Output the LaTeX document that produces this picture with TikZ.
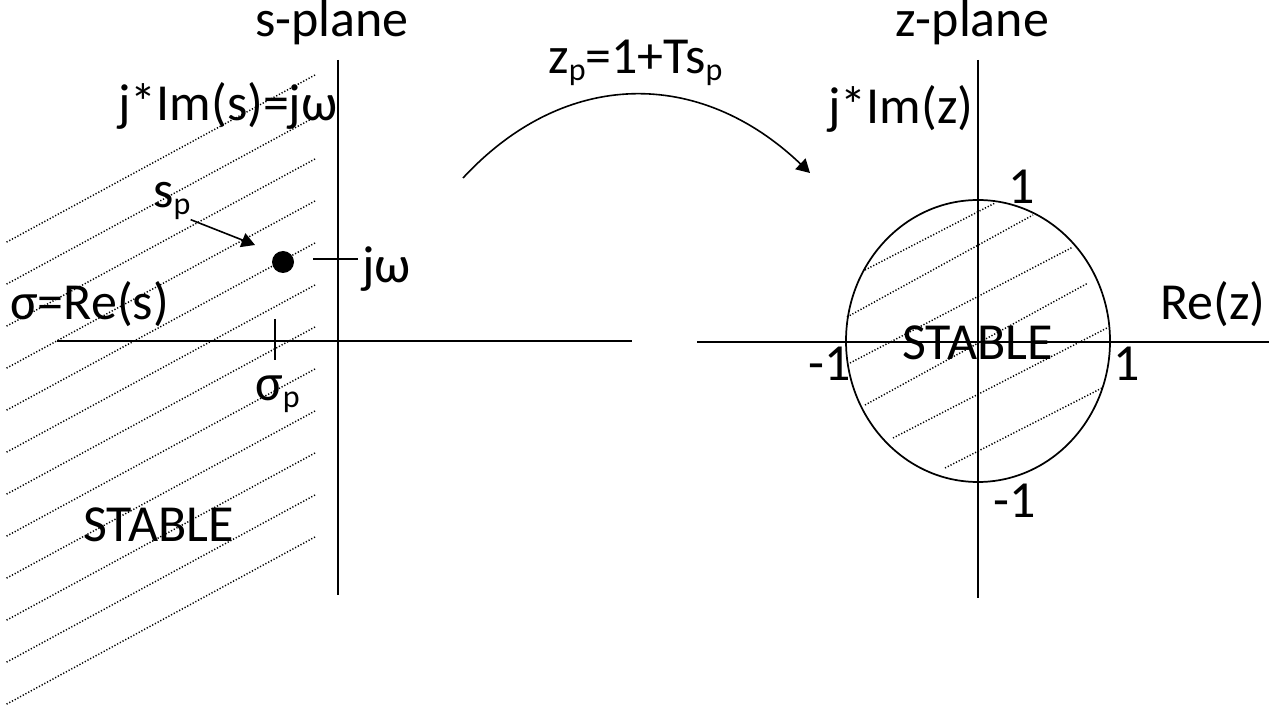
\documentclass[tikz,border=0pt]{standalone}
\usepackage{fontspec}
\setmainfont{Carlito}
\usetikzlibrary{arrows.meta}
\definecolor{figline}{RGB}{0,0,0}
\tikzset{
  ax/.style  ={draw=figline, line width=1.3pt},
  ht/.style  ={draw=figline, line width=1.1pt, dash pattern=on 0.9pt off 1.4pt},
  lab/.style ={font=\fontsize{39}{46}\selectfont, inner sep=0pt, anchor=base west},
  ptr/.style ={draw=figline, line width=1.2pt, -{Triangle[length=10pt,width=11pt]}},
}
\newcommand{\subp}{\raisebox{-0.12em}{\fontsize{24}{24}\selectfont p}}

\begin{document}
\begin{tikzpicture}[x=0.75pt,y=-0.75pt]
  \useasboundingbox (0,0) rectangle (1269,712);
  % s-plane
  \foreach \k in {0,...,11}
    \draw[ht] ({315},{75+42*\k}) -- ({5},{243+42*\k});
  \draw[ax] (338,60) -- (338,595);
  \draw[ax] (57,341) -- (632,341);
  \draw[ax] (313,259) -- (358,259);
  \draw[ax] (275,319) -- (275,360);
  \node[lab] (splane) at (255,37) {s-plane};
  \node[lab] (ims) at (118,121) {j*Im(s)=jω};
  \node[lab] (res) at (10,320) {σ=Re(s)};
  \node[lab] (sp) at (153,208) {s\subp};
  \node[lab] (jw) at (362,283) {jω};
  \node[lab] (sigp) at (255,401) {σ\subp};
  \node[lab] (sstab) at (83,541) {STABLE};
  \node[circle,fill=figline,inner sep=0pt,minimum size=16.5pt] (dot) at (283,262) {};
  \coordinate (sptip) at (255,245);
  \draw[ptr] (sp.south east) -- (sptip);
  % mapping
  \node[lab] (zmap) at (548,74) {z\subp=1+Ts\subp};
  \coordinate (cs) at (463,178);
  \coordinate (ce) at (810,173);
  \draw[ptr] (cs) .. controls (565,68) and (700,68) .. (ce);
  % z-plane
  \draw[ht] (865,270) -- (995,203);
  \draw[ht] (847,317) -- (1033,215);
  \draw[ht] (850,363) -- (1073,247);
  \draw[ht] (865,405) -- (1088,283);
  \draw[ht] (893,438) -- (1107,328);
  \draw[ht] (945,468) -- (1102,388);
  \draw[ax] (978,341) ellipse [x radius=132, y radius=141];
  \draw[ax] (978,60) -- (978,598);
  \draw[ax] (697,342) -- (1269,342);
  \node[lab] (zplane) at (895,37) {z-plane};
  \node[lab] (imz) at (828,124) {j*Im(z)};
  \node[lab] (rez) at (1160,320) {Re(z)};
  \node[lab] (one) at (1008,204) {1};
  \node[lab] (mone) at (808,380) {-1};
  \node[lab] (oner) at (1113,380) {1};
  \node[lab] (mtop) at (993,517) {-1};
  \node[lab] (zstab) at (902,360) {STABLE};
\end{tikzpicture}
\end{document}
